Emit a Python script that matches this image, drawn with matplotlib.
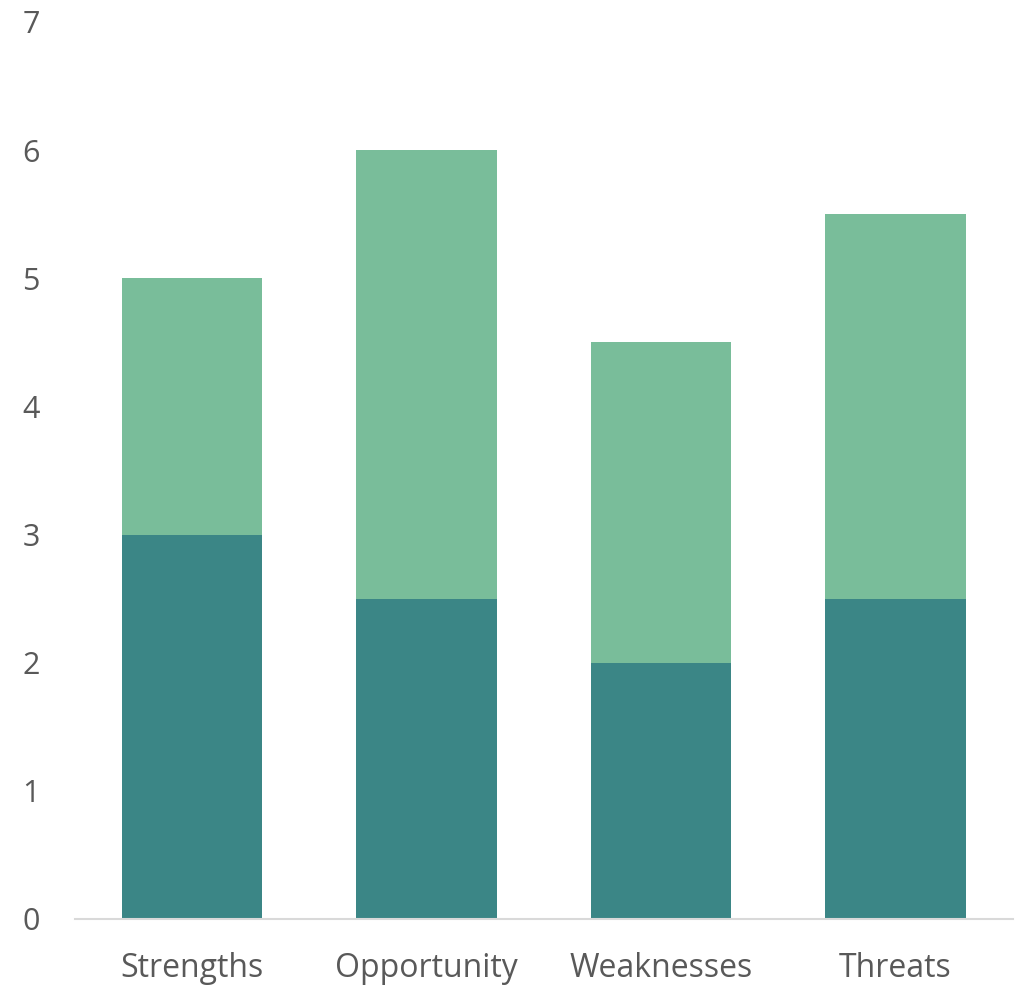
import matplotlib.pyplot as plt

plt.rcParams['font.family'] = ['Open Sans', 'DejaVu Sans']

# data
categories = ['Strengths', 'Opportunity', 'Weaknesses', 'Threats']
bottom_vals = [3, 2.5, 2, 2.5]
top_vals = [2, 3.5, 2.5, 3]

dark = '#3B8686'
light = '#79BD9A'
text_col = '#595959'

fig = plt.figure(figsize=(10.23, 9.86), dpi=100)
ax = fig.add_axes([0.073, 0.068, 0.917, 0.9097])

x = range(len(categories))
ax.bar(x, bottom_vals, width=0.6, color=dark, zorder=2)
ax.bar(x, top_vals, width=0.6, bottom=bottom_vals, color=light, zorder=2)

ax.set_xlim(-0.5, 3.5)
ax.set_ylim(0, 7)
ax.set_yticks(range(0, 8))
ax.set_xticks(list(x))
ax.set_xticklabels(categories)

for s in ['top', 'right', 'left']:
    ax.spines[s].set_visible(False)
ax.spines['bottom'].set_color('#D9D9D9')
ax.spines['bottom'].set_linewidth(1.5)

ax.tick_params(axis='both', length=0, labelsize=22, colors=text_col)
ax.tick_params(axis='x', labelsize=23, pad=24)
ax.tick_params(axis='y', pad=25)

fig.savefig('out.png', dpi=100)
